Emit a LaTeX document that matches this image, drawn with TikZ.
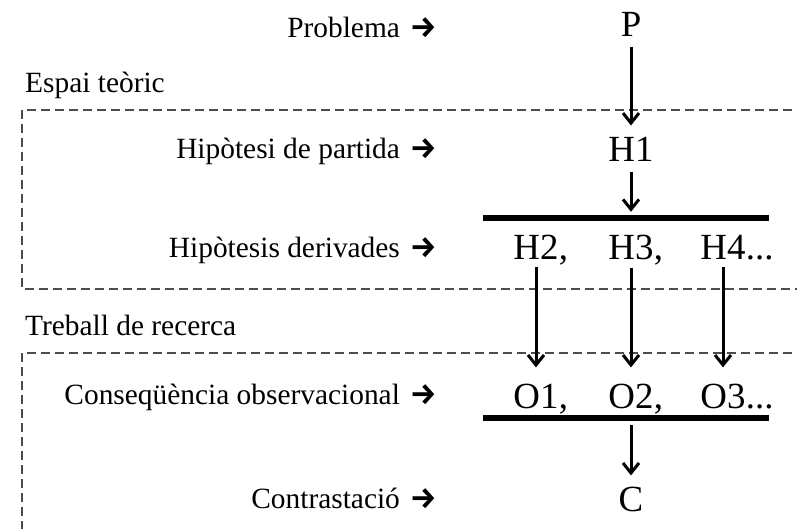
\documentclass[tikz,border=0pt]{standalone}
\usepackage{fontspec}
\setmainfont{Liberation Serif}
\newfontfamily\arrowfont{Fira Sans}
\usetikzlibrary{arrows.meta}
\tikzset{
  lbl/.style={anchor=base east, inner sep=0pt, font=\fontsize{29.5}{32}\selectfont},
  sect/.style={anchor=base west, inner sep=0pt, font=\fontsize{29.5}{32}\selectfont},
  big/.style={anchor=base, inner sep=0pt, font=\fontsize{37}{40}\selectfont},
  bigw/.style={anchor=base west, inner sep=0pt, font=\fontsize{37}{40}\selectfont},
  bar/.style={fill=black, draw=none, minimum width=286bp, minimum height=6bp, inner sep=0pt},
  arr/.style={line width=3bp, -{Straight Barb[length=10bp,width=16bp,line width=3bp]}},
  region/.style={dash pattern=on 9bp off 5bp, line width=2bp, draw=black!70}
}
\newcommand{\rarr}{\hspace{10bp}{\arrowfont\bfseries\fontsize{30}{32}\selectfont →}}
\begin{document}
\begin{tikzpicture}[x=1bp,y=-1bp]
\useasboundingbox (0,0) rectangle (797,529);
\clip (0,0) rectangle (797,529);
% regions
\draw[region] (22,110) rectangle (830,289);
\draw[region] (22,353) rectangle (830,560);
\node[sect] (espai) at (25,93) {Espai teòric};
\node[sect] (treball) at (25,335) {Treball de recerca};
% labels
\node[lbl] (lp) at (437,38) {Problema\rarr};
\node[lbl] (lh1) at (437,159) {Hipòtesi de partida\rarr};
\node[lbl] (lhd) at (437,258) {Hipòtesis derivades\rarr};
\node[lbl] (lo) at (437,404) {Conseqüència observacional\rarr};
\node[lbl] (lc) at (437,508) {Contrastació\rarr};
% main column
\node[big] (p) at (631,37) {P};
\node[big] (h1) at (631,162) {H1};
\node[bar] (bar1) at (626,218) {};
\node[big] (h2) at (536,260) {H2};
\node[bigw] (c2) at (h2.base east) {,};
\node[big] (h3) at (631,260) {H3};
\node[bigw] (c3) at (h3.base east) {,};
\node[big] (h4) at (723,260) {H4};
\node[bigw] (d4) at (h4.base east) {...};
\node[big] (o1) at (536,408) {O1};
\node[bigw] (c4) at (o1.base east) {,};
\node[big] (o2) at (631,408) {O2};
\node[bigw] (c5) at (o2.base east) {,};
\node[big] (o3) at (723,408) {O3};
\node[bigw] (d6) at (o3.base east) {...};
\node[bar] (bar2) at (626,418) {};
\node[big] (c) at (631,511) {C};
% connectors
\draw[arr, shorten <=10bp, shorten >=12bp] (p.south) -- (h1.north);
\draw[arr, shorten <=10bp, shorten >=3bp] (h1.south) -- (h1.south |- bar1.north);
\draw[arr, shorten <=7bp, shorten >=16bp] (h2.south) -- (o1.north);
\draw[arr, shorten <=7bp, shorten >=16bp] (h3.south) -- (o2.north);
\draw[arr, shorten <=7bp, shorten >=16bp] (h4.south) -- (o3.north);
\draw[arr, shorten <=4bp, shorten >=11bp] (c.north |- bar2.south) -- (c.north);
\end{tikzpicture}
\end{document}
